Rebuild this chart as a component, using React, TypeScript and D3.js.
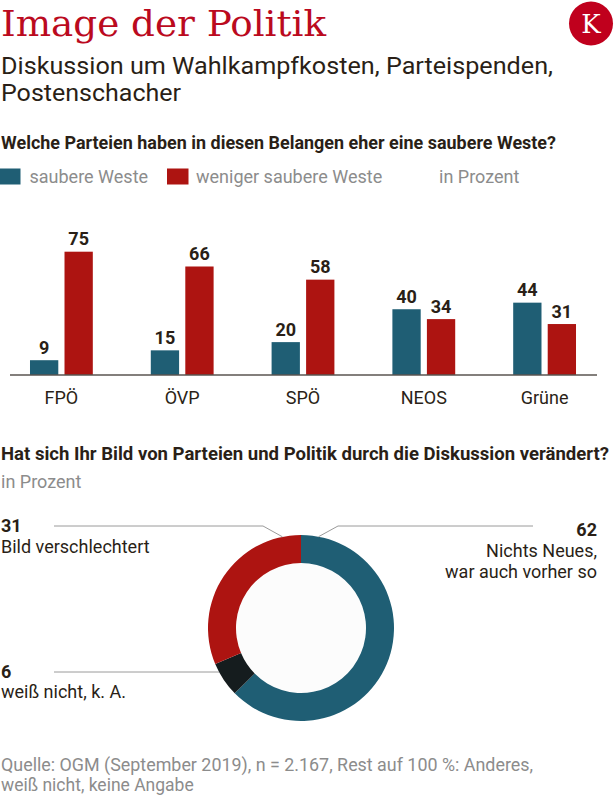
import React from "react";
import * as d3 from "d3";

const parties = ["FPÖ", "ÖVP", "SPÖ", "NEOS", "Grüne"];
const seriesKeys = ["saubere Weste", "weniger saubere Weste"];
const cleanValues = [9, 15, 20, 40, 44];
const lessCleanValues = [75, 66, 58, 34, 31];

const donutLabels = ["Nichts Neues, war auch vorher so", "weiß nicht, k. A.", "Bild verschlechtert"];
const donutValues = [62, 6, 31];

const TEAL = "#1f5e74";
const RED = "#ad1411";
const BLACK = "#151c1e";
const DARK = "#2a1f17";
const GRAY = "#8c8c8c";
const LINE = "#9a9a9a";
const FONT = "Roboto, 'Noto Sans', sans-serif";

export default function App() {
  const width = 616;
  const height = 811;

  // Bar chart scales
  const x0 = d3.scaleBand<string>().domain(parties).range([1, 605]).paddingInner(0.48).paddingOuter(0.24);
  const x1 = d3.scaleBand<string>().domain(seriesKeys).range([0, x0.bandwidth()]).paddingInner(0.18).paddingOuter(0);
  const y = d3.scaleLinear().domain([0, 100]).range([375, 210.6]);
  const colors = d3.scaleOrdinal<string, string>().domain(seriesKeys).range([TEAL, RED]);

  const rows = parties.map((p, i) => ({ party: p, values: [cleanValues[i], lessCleanValues[i]] }));

  // Donut
  const cx = 301;
  const cy = 628;
  const rOuter = 93;
  const rInner = 65;
  const pie = d3.pie<number>().sort(null).startAngle(0).endAngle(2 * Math.PI);
  const arcs = pie(donutValues);
  const arc = d3.arc<d3.PieArcDatum<number>>().innerRadius(rInner).outerRadius(rOuter);
  const donutColors = [TEAL, BLACK, RED];
  const polar = (a: number, r: number): [number, number] => [cx + r * Math.sin(a), cy - r * Math.cos(a)];
  const line = d3.line();

  const pRight = polar(0.19, rOuter);
  const pLeft = polar(-0.2, rOuter);
  const yBlack = 672;
  const pBlack: [number, number] = [cx - Math.sqrt(rOuter * rOuter - (yBlack - cy) ** 2), yBlack];

  return (
    <svg
      width={width}
      height={height}
      style={{ position: "absolute", left: 0, top: 0, background: "#fff" }}
      fontFamily={FONT}
    >
      {/* Header */}
      <text x={1} y={36} fontFamily="'DejaVu Serif', serif" fontSize={35} fill="#bb0a1e" textLength={325} lengthAdjust="spacingAndGlyphs">
        Image der Politik
      </text>
      <circle cx={591} cy={23.5} r={22} fill="#c0001d" />
      <text x={591} y={32.5} textAnchor="middle" fontFamily="'DejaVu Serif', serif" fontSize={26} fill="#fff">
        K
      </text>
      <text x={1} y={74} fontSize={23.5} fill={DARK} textLength={552} lengthAdjust="spacingAndGlyphs">
        Diskussion um Wahlkampfkosten, Parteispenden,
      </text>
      <text x={1} y={101} fontSize={23.5} fill={DARK} textLength={180} lengthAdjust="spacingAndGlyphs">
        Postenschacher
      </text>

      {/* Question 1 */}
      <text x={1} y={149} fontSize={17.5} fontWeight="bold" fill={DARK} textLength={555} lengthAdjust="spacingAndGlyphs">
        Welche Parteien haben in diesen Belangen eher eine saubere Weste?
      </text>
      {/* Legend */}
      <rect x={0} y={168.5} width={20.5} height={16} fill={TEAL} />
      <text x={29.5} y={183} fontSize={18} fill={GRAY}>saubere Weste</text>
      <rect x={167} y={168.5} width={21.5} height={16} fill={RED} />
      <text x={196} y={183} fontSize={18} fill={GRAY}>weniger saubere Weste</text>
      <text x={439} y={183} fontSize={18} fill={GRAY}>in Prozent</text>

      {/* Bars */}
      {rows.map((row) => (
        <g key={row.party} transform={`translate(${x0(row.party)},0)`}>
          {row.values.map((v, j) => {
            const key = seriesKeys[j];
            const bx = x1(key)!;
            return (
              <g key={key}>
                <rect x={bx} y={y(v)} width={x1.bandwidth()} height={y(0) - y(v)} fill={colors(key)} />
                <text
                  x={bx + x1.bandwidth() / 2}
                  y={y(v) - 6.5}
                  textAnchor="middle"
                  fontSize={18}
                  fontWeight="bold"
                  fill={DARK}
                >
                  {v}
                </text>
              </g>
            );
          })}
          <text x={x0.bandwidth() / 2} y={404} textAnchor="middle" fontSize={18} fill={DARK}>
            {row.party}
          </text>
        </g>
      ))}
      <line x1={10} x2={597} y1={y(0)} y2={y(0)} stroke="#5a5450" strokeWidth={1.5} />

      {/* Question 2 */}
      <text x={1} y={460} fontSize={17.5} fontWeight="bold" fill={DARK} textLength={608} lengthAdjust="spacingAndGlyphs">
        Hat sich Ihr Bild von Parteien und Politik durch die Diskussion verändert?
      </text>
      <text x={1} y={488} fontSize={18} fill={GRAY}>in Prozent</text>

      {/* Donut */}
      <g transform={`translate(${cx},${cy})`}>
        <circle r={rInner} fill="#fcfcfc" />
        {arcs.map((a, i) => (
          <path key={donutLabels[i]} d={arc(a)!} fill={donutColors[i]} />
        ))}
      </g>

      {/* Leader lines */}
      <path d={line([[54, 526], [263, 526], pLeft])!} fill="none" stroke={LINE} strokeWidth={1} />
      <path d={line([pRight, [338, 526], [533, 526]])!} fill="none" stroke={LINE} strokeWidth={1} />
      <path d={line([[54, yBlack], pBlack])!} fill="none" stroke={LINE} strokeWidth={1} />

      {/* Donut labels */}
      <text x={1} y={532} fontSize={18} fontWeight="bold" fill={DARK}>{donutValues[2]}</text>
      <text x={1} y={553} fontSize={18} fill={DARK}>{donutLabels[2]}</text>

      <text x={1} y={678} fontSize={18} fontWeight="bold" fill={DARK}>{donutValues[1]}</text>
      <text x={1} y={698} fontSize={18} fill={DARK}>{donutLabels[1]}</text>

      <text x={597} y={536} textAnchor="end" fontSize={18} fontWeight="bold" fill={DARK}>{donutValues[0]}</text>
      <text x={597} y={557} textAnchor="end" fontSize={18} fill={DARK}>Nichts Neues,</text>
      <text x={597} y={578} textAnchor="end" fontSize={18} fill={DARK}>war auch vorher so</text>

      {/* Source */}
      <text x={1} y={771} fontSize={17.5} fill={GRAY} textLength={532} lengthAdjust="spacingAndGlyphs">
        Quelle: OGM (September 2019), n = 2.167, Rest auf 100 %: Anderes,
      </text>
      <text x={1} y={791} fontSize={17.5} fill={GRAY}>weiß nicht, keine Angabe</text>
    </svg>
  );
}
